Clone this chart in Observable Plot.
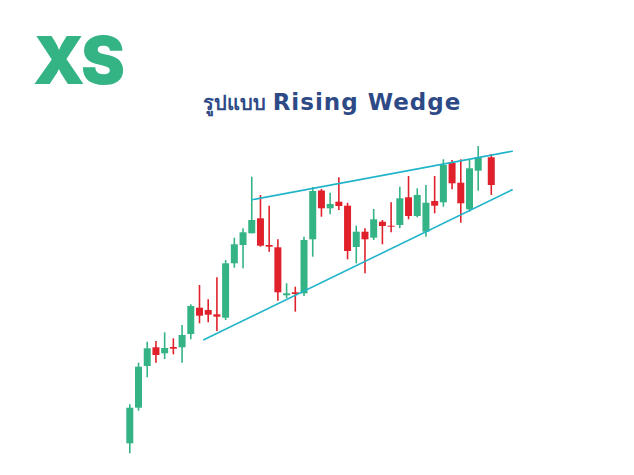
<!DOCTYPE html>
<html><head><meta charset="utf-8">
<script src="https://cdn.jsdelivr.net/npm/d3@7"></script>
<script src="https://cdn.jsdelivr.net/npm/@observablehq/plot@0.6"></script>
<style>
body{margin:0;background:#fff;width:634px;height:475px;overflow:hidden;}
#header{position:relative;width:634px;height:130px;}
#logo{position:absolute;left:33px;top:27px;font:900 66px Inter,sans-serif;color:#34b385;letter-spacing:-3px;line-height:1;}
#title{position:absolute;left:15px;width:634px;top:87px;text-align:center;font:700 20px "DejaVu Sans",sans-serif;color:#2d4a86;white-space:nowrap;}
#title .lat{font-size:23px;letter-spacing:1px;}
</style></head><body>
<div id="header"><div id="logo">XS</div><div id="title"><span class="th">รูปแบบ</span> <span class="lat">Rising Wedge</span></div></div>
<div id="chart"></div>
<script>
// candle index (time)
const t = [1,2,3,4,5,6,7,8,9,10,11,12,13,14,15,16,17,18,19,20,21,22,23,24,25,26,27,28,29,30,31,32,33,34,35,36,37,38,39,40,41,42.5];
const open  = [16.7,52.3,94,112.7,106.7,113,112.7,126,152.3,150,145.7,142.3,196.7,215,226.7,241.7,215,212.7,164.7,167.7,166.7,220.7,269.5,251.7,258.3,254.3,213,228.3,222.3,238.3,234.3,235,262.7,244,228.3,259,257.7,297.3,277.3,250.7,289.3,302.7];
const close = [52.3,93.3,111.7,105,112,111.3,125,154,144.3,145.3,143.3,196.7,215.7,227.7,240,214.3,213.3,167.7,166.7,166,220,269,251.7,256,254,209,228.3,220.7,240.7,234,233.3,261.7,244,265,257.3,254.3,295,276.7,256.7,291.7,302.7,275];
const high  = [55.7,97.3,118.3,119,127.7,121.7,135,155.7,175,160.7,182.7,200,222.3,231.7,283.3,265,254.3,220.7,176.7,173.3,223.3,273,271,267.3,282.7,257.3,234.3,231.7,251,240,257.7,273.3,284,271.7,275,284,300.7,300,300.7,300.7,314,306];
const low   = [6.7,49.3,82.7,97.3,101,105.7,97.3,120.7,136.7,137.7,129,140,192.3,191.7,226.7,213.3,208.3,159.3,161.7,148.3,164,203.3,243.3,245.7,250,200.7,196.7,186.7,220,215.7,227.7,231.7,240.7,242.7,223.3,246.7,253.3,270.7,237.3,248.3,269.3,265];
// wedge trend lines
const upperX = [15, 44.9], upperY = [260.7, 309.3];
const lowerX = [9.5, 44.9], lowerY = [120.7, 270.7];

const GREEN = "#34b385", RED = "#e0212c", LINE = "#1fb4c9";
const candles = t.map((x, i) => ({t: x, open: open[i], close: close[i], high: high[i], low: low[i], up: close[i] >= open[i]}));
const upper = upperX.map((x, i) => ({x, y: upperY[i]}));
const lower = lowerX.map((x, i) => ({x, y: lowerY[i]}));

const chart = Plot.plot({
  width: 634, height: 345,
  marginLeft: 120.6, marginRight: 77.9, marginTop: 0, marginBottom: 15,
  x: {domain: [0, 50], axis: null},
  y: {domain: [0, 330], axis: null},
  marks: [
    Plot.ruleX(candles, {x: "t", y1: "low", y2: "high", stroke: d => d.up ? GREEN : RED, strokeWidth: 1.6}),
    Plot.ruleX(candles, {x: "t", y1: "open", y2: "close", stroke: d => d.up ? GREEN : RED, strokeWidth: 7}),
    Plot.line(upper, {x: "x", y: "y", stroke: LINE, strokeWidth: 1.6}),
    Plot.line(lower, {x: "x", y: "y", stroke: LINE, strokeWidth: 1.6})
  ]
});
document.getElementById("chart").appendChild(chart);
</script>
</body></html>
